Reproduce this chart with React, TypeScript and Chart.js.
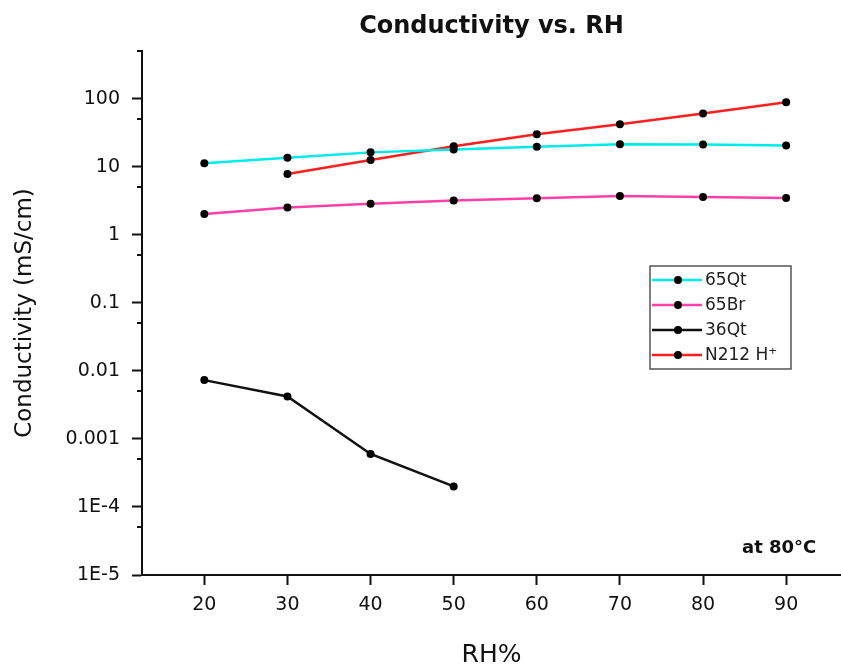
import React, { useEffect, useRef } from 'react';
import { Chart, registerables } from 'chart.js';

Chart.register(...registerables);

const chartTitle = 'Conductivity vs. RH';
const xTitle = 'RH%';
const yTitle = 'Conductivity (mS/cm)';
const note = 'at 80°C';

const xTicks = [20, 30, 40, 50, 60, 70, 80, 90];
const yTicks = [1e-5, 1e-4, 1e-3, 1e-2, 1e-1, 1, 10, 100];
const yTickLabels = ['1E-5', '1E-4', '0.001', '0.01', '0.1', '1', '10', '100'];
const yMinorTicks = [5e-5, 5e-4, 5e-3, 5e-2, 0.5, 5, 50, 500];

const rhQt65 = [20, 30, 40, 50, 60, 70, 80, 90];
const qt65 = [11.2, 13.5, 16.2, 17.9, 19.6, 21.4, 21.2, 20.5];
const rhBr65 = [20, 30, 40, 50, 60, 70, 80, 90];
const br65 = [2.02, 2.5, 2.86, 3.17, 3.43, 3.71, 3.59, 3.47];
const rhQt36 = [20, 30, 40, 50];
const qt36 = [0.0073, 0.0042, 0.0006, 0.0002];
const rhN212 = [30, 40, 50, 60, 70, 80, 90];
const n212 = [7.8, 12.5, 20.0, 30.0, 42.0, 60.3, 88.3];

const seriesLabels = ['65Qt', '65Br', '36Qt', 'N212 H⁺'];
const seriesColors = ['#00ecec', '#ff40a8', '#111111', '#ff1f1f'];

const FONT = 'DejaVu Sans';
const INK = '#111111';

const pts = (xs: number[], ys: number[]) => xs.map((x, i) => ({ x, y: ys[i] }));

const decorPlugin = {
  id: 'decor',
  afterDraw(chart: any) {
    const ctx = chart.ctx;
    const ys = chart.scales.y;
    const left = chart.chartArea.left;
    ctx.save();
    // minor ticks on y axis
    ctx.strokeStyle = INK;
    ctx.lineWidth = 2;
    yMinorTicks.forEach((v) => {
      const py = Math.round(ys.getPixelForValue(v));
      ctx.beginPath();
      ctx.moveTo(left - 5, py);
      ctx.lineTo(left, py);
      ctx.stroke();
    });

    // legend box
    const bx = 650, by = 266, bw = 141, bh = 103;
    ctx.strokeStyle = '#555555';
    ctx.lineWidth = 1.5;
    ctx.strokeRect(bx, by, bw, bh);
    const rowY = [280, 305, 330, 355];
    chart.data.datasets.forEach((ds: any, i: number) => {
      const y = rowY[i];
      ctx.strokeStyle = ds.borderColor;
      ctx.lineWidth = 2.5;
      ctx.beginPath();
      ctx.moveTo(652, y);
      ctx.lineTo(702, y);
      ctx.stroke();
      ctx.fillStyle = '#000';
      ctx.beginPath();
      ctx.arc(678, y, 4, 0, Math.PI * 2);
      ctx.fill();
      ctx.fillStyle = '#222';
      ctx.font = `17px "${FONT}"`;
      ctx.textAlign = 'left';
      ctx.textBaseline = 'middle';
      ctx.fillText(ds.label, 705, y + 1);
    });

    // note
    ctx.fillStyle = INK;
    ctx.font = `bold 18px "${FONT}"`;
    ctx.textAlign = 'left';
    ctx.textBaseline = 'alphabetic';
    ctx.fillText(note, 742, 553);
    ctx.restore();
  },
};

export default function App() {
  const ref = useRef<HTMLCanvasElement | null>(null);

  useEffect(() => {
    if (!ref.current) return;
    const series = [
      pts(rhQt65, qt65),
      pts(rhBr65, br65),
      pts(rhQt36, qt36),
      pts(rhN212, n212),
    ];
    const chart = new Chart(ref.current, {
      type: 'line',
      data: {
        datasets: series.map((d, i) => ({
          label: seriesLabels[i],
          data: d,
          borderColor: seriesColors[i],
          backgroundColor: '#000',
          borderWidth: 2.5,
          pointRadius: 4,
          pointBackgroundColor: '#000',
          pointBorderWidth: 0,
          fill: false,
          tension: 0,
        })),
      },
      options: {
        animation: false,
        responsive: false,
        devicePixelRatio: 1,
        layout: { padding: 0, autoPadding: false },
        plugins: {
          legend: { display: false },
          tooltip: { enabled: false },
          title: {
            display: true,
            text: chartTitle,
            fullSize: false,
            color: INK,
            font: { family: FONT, size: 24, weight: 'bold' },
            padding: { top: 12, bottom: 10.2 },
          },
        },
        scales: {
          x: {
            type: 'linear',
            min: 12.5,
            max: 96.6,
            afterBuildTicks: (s: any) => {
              s.ticks = xTicks.map((v) => ({ value: v }));
            },
            afterFit: (s: any) => {
              s.height = 89;
              s.paddingRight = 0;
              s.paddingLeft = 0;
            },
            ticks: {
              color: INK,
              font: { family: FONT, size: 19 },
              padding: 9,
              maxRotation: 0,
              autoSkip: false,
              callback: (v: any) => String(v),
            },
            grid: {
              drawOnChartArea: false,
              drawTicks: true,
              tickLength: 10,
              tickWidth: 2,
              tickColor: INK,
            },
            border: { display: true, color: INK, width: 2 },
            title: {
              display: true,
              text: xTitle,
              color: INK,
              font: { family: FONT, size: 25, lineHeight: 0.72 },
              padding: { top: 0, bottom: 0 },
            },
          },
          y: {
            type: 'logarithmic',
            min: 1e-5,
            max: 500,
            afterBuildTicks: (s: any) => {
              s.ticks = yTicks.map((v) => ({ value: v }));
            },
            afterFit: (s: any) => {
              s.width = 142;
            },
            ticks: {
              color: INK,
              font: { family: FONT, size: 19 },
              padding: 12,
              autoSkip: false,
              callback: (v: any) => {
                const idx = yTicks.findIndex((t) => Math.abs(t - v) / t < 1e-6);
                return idx >= 0 ? yTickLabels[idx] : '';
              },
            },
            grid: {
              drawOnChartArea: false,
              drawTicks: true,
              tickLength: 10,
              tickWidth: 2,
              tickColor: INK,
            },
            border: { display: true, color: INK, width: 2 },
            title: {
              display: true,
              text: yTitle,
              color: INK,
              font: { family: FONT, size: 23 },
              padding: { top: 11, bottom: 0 },
            },
          },
        },
      },
      plugins: [decorPlugin],
    } as any);
    return () => chart.destroy();
  }, []);

  return (
    <div style={{ position: 'absolute', left: 0, top: 0, width: 841, height: 664 }}>
      <canvas ref={ref} width={841} height={664} style={{ display: 'block' }} />
    </div>
  );
}
